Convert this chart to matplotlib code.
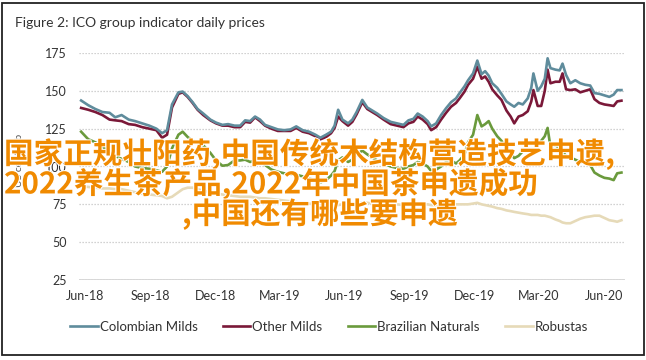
import matplotlib
matplotlib.use("Agg")
import matplotlib.pyplot as plt
import matplotlib.patheffects as pe
from matplotlib.patches import Rectangle
import pandas as pd

plt.rcParams['font.family'] = ['Lato', 'DejaVu Sans']

dates = [
    "2018-05-26", "2018-06-05", "2018-06-15", "2018-06-25", "2018-07-05", "2018-07-13",
    "2018-07-22", "2018-08-01", "2018-08-10", "2018-08-20", "2018-08-30", "2018-09-09",
    "2018-09-17", "2018-09-24", "2018-10-01", "2018-10-10", "2018-10-16", "2018-10-23",
    "2018-10-30", "2018-11-06", "2018-11-14", "2018-11-24", "2018-12-02", "2018-12-11",
    "2018-12-19", "2018-12-28", "2019-01-05", "2019-01-12", "2019-01-19", "2019-01-26",
    "2019-02-02", "2019-02-09", "2019-02-18", "2019-02-27", "2019-03-08", "2019-03-17",
    "2019-03-25", "2019-04-03", "2019-04-12", "2019-04-21", "2019-04-28", "2019-05-06",
    "2019-05-13", "2019-05-18", "2019-05-23", "2019-05-29", "2019-06-06", "2019-06-12",
    "2019-06-18", "2019-06-26", "2019-07-03", "2019-07-10", "2019-07-17", "2019-07-26",
    "2019-08-05", "2019-08-14", "2019-08-23", "2019-08-30", "2019-09-06", "2019-09-12",
    "2019-09-19", "2019-09-26", "2019-10-01", "2019-10-08", "2019-10-15", "2019-10-22",
    "2019-10-29", "2019-11-05", "2019-11-10", "2019-11-17", "2019-11-22", "2019-11-29",
    "2019-12-05", "2019-12-11", "2019-12-16", "2019-12-21", "2019-12-26", "2020-01-02",
    "2020-01-08", "2020-01-15", "2020-01-21", "2020-01-26", "2020-02-01", "2020-02-07",
    "2020-02-14", "2020-02-19", "2020-02-22", "2020-02-28", "2020-03-04", "2020-03-09",
    "2020-03-13", "2020-03-17", "2020-03-24", "2020-03-30", "2020-04-03", "2020-04-08",
    "2020-04-14", "2020-04-21", "2020-04-28", "2020-05-05", "2020-05-12", "2020-05-18",
    "2020-05-25", "2020-06-01", "2020-06-08", "2020-06-14", "2020-06-19", "2020-06-25",
]

colombian_milds = [
    143.6, 140.5, 138, 136, 135.5, 132.5, 134, 131, 130, 128.5, 127, 125, 122, 124, 141, 149,
    149.5, 146.5, 142.5, 138, 135, 131, 129, 127.5, 128, 127, 127, 130.5, 130, 133, 131, 127.5,
    126, 124.5, 124, 124.5, 126.5, 124, 123, 121, 119, 121, 123, 127, 137.5, 131, 128.5, 131,
    136, 144, 139, 137, 135, 132, 129.5, 128.5, 127.5, 130.5, 131.5, 135, 133, 130, 126.5, 128.5,
    134, 138.5, 142.5, 145, 148.5, 153, 157, 161.5, 170, 161, 163, 160, 155, 152, 148, 143,
    141, 139.5, 142, 141, 145, 152, 161.5, 150, 153, 158, 171.5, 165, 164, 163.5, 168, 160.5,
    155, 157, 155, 154, 153.5, 148.5, 148, 147, 146, 147.5, 150.5, 150.5,
]

other_milds = [
    138.7, 137.5, 136, 134, 131, 130.5, 130, 128, 127.5, 126, 125, 124, 119, 121, 139, 148,
    149, 146, 142, 137.5, 134, 130.5, 128.5, 127, 127, 126, 126, 129.5, 129, 132.5, 130, 127,
    125, 123.5, 123.5, 123.5, 125.5, 123, 122, 120, 118, 119.5, 122, 125.5, 133, 130, 127, 129.5,
    134.5, 142.5, 138, 136, 134, 131, 128, 127, 126, 128.5, 129.5, 133, 131, 128, 124, 126,
    131, 135.5, 139.5, 142, 145, 149.5, 154, 158, 166, 158, 159.5, 156, 151, 147, 144, 137,
    133, 128.5, 133, 134, 136.5, 143, 150.5, 140, 140, 150, 164, 155, 156, 156, 161.5, 151,
    150.5, 151, 149, 150, 151, 144.5, 142, 141, 140.5, 140, 143, 143.5,
]

brazilian_naturals = [
    123, 118, 116, 113, 110, 107, 105, 103, 100, 99, 98.5, 97.5, 96.5, 100, 112, 121,
    123, 119.5, 117, 116, 114, 109, 104, 100.5, 101, 104, 104, 104.5, 103, 104, 103.5, 101,
    98, 96.5, 95.5, 95, 94.5, 93.5, 92, 91, 89.5, 91, 94, 97, 104, 106, 103, 104.5,
    108, 110.5, 108, 106, 104, 102, 100, 99, 98.5, 100, 101, 103, 102, 100, 97, 98,
    100, 103, 104, 102, 104, 108, 116, 121, 134, 126.5, 128, 130, 125, 120, 117, 112,
    109, 105.5, 107, 110, 111, 109, 110, 114, 117, 120, 125.5, 113, 114, 112, 110, 107,
    106, 104.5, 103, 102.5, 101, 96, 94, 92.5, 92, 91, 95.5, 96,
]

robustas = [
    87, 86.5, 86, 85.5, 85.5, 85, 85, 84, 83, 82, 81.5, 81, 80.5, 79, 80, 83,
    85, 86, 86, 85, 84, 83, 82, 81.5, 81, 80.5, 80, 80, 80, 79.5, 79, 79,
    78.5, 78, 77.5, 77, 76.5, 76, 75.5, 75, 74.5, 74, 74, 74, 74.5, 75, 75, 75,
    75.5, 76, 76, 75.5, 75.5, 75, 75, 75, 74.5, 74.5, 74.5, 75, 75, 75, 74.5, 74.5,
    74.5, 75, 75, 75, 75, 75, 75, 75.5, 76, 75, 74.5, 74, 73.5, 72.5, 72, 71,
    70.5, 70, 69.5, 69, 68.5, 68, 68, 68, 67.5, 67.5, 67, 66.5, 65, 64, 63, 62.5,
    62.5, 64, 65.5, 66.5, 67, 67.5, 67.5, 66, 64.5, 64, 63.5, 64.5,
]

series_names = ["Colombian Milds", "Other Milds", "Brazilian Naturals", "Robustas"]
series_colors = ["#5f8c9c", "#7a1838", "#6a9a3c", "#e6dab8"]

tick_dates = ["2018-06-01", "2018-09-01", "2018-12-01", "2019-03-01", "2019-06-01",
              "2019-09-01", "2019-12-01", "2020-03-01", "2020-06-01"]
tick_labels = ["Jun-18", "Sep-18", "Dec-18", "Mar-19", "Jun-19",
               "Sep-19", "Dec-19", "Mar-20", "Jun-20"]
y_ticks = [25, 50, 75, 100, 125, 150, 175]

title_text = "Figure 2: ICO group indicator daily prices"
y_label = "US cents/lb"
overlay_lines = [
    "国家正规壮阳药,中国传统木结构营造技艺申遗,",
    "2022养生茶产品,2022年中国茶申遗成功",
    ",中国还有哪些要申遗",
]

W, H = 646, 360
fig = plt.figure(figsize=(W / 100, H / 100), dpi=100)
ax = fig.add_axes([79 / W, 1 - 280 / H, (625 - 79) / W, (280 - 53) / H])

x = pd.to_datetime(dates)
all_series = [colombian_milds, other_milds, brazilian_naturals, robustas]
handles = []
for vals, name, col in zip(all_series[::-1], series_names[::-1], series_colors[::-1]):
    h, = ax.plot(x, vals, color=col, lw=1.9, label=name, solid_joinstyle='round')
    handles.append(h)
handles = handles[::-1]

ax.set_ylim(25, 175)
ax.set_xlim(pd.Timestamp("2018-05-23"), pd.Timestamp("2020-06-30"))
ax.set_yticks(y_ticks)
ax.set_xticks(pd.to_datetime(tick_dates))
ax.set_xticklabels(tick_labels)
ax.tick_params(axis='both', length=0, labelsize=9, colors='#333333')
ax.tick_params(axis='y', pad=9)
ax.tick_params(axis='x', pad=7)
for s in ax.spines.values():
    s.set_visible(False)
ax.yaxis.grid(True, linestyle=(0, (1, 1.4)), color='#c4c4c4', lw=0.9)
ax.set_axisbelow(True)
ax.axhline(25, color='#d8d8d8', lw=1.4, zorder=0.5)

fig.legend(handles=handles, labels=series_names, loc='center', ncol=4,
           bbox_to_anchor=(329 / W, 1 - 327 / H), frameon=False, fontsize=9.5,
           handlelength=2.1, handletextpad=0.15, columnspacing=1.9, labelcolor='#333333')

fig.text(15 / W, 1 - 23 / H, title_text, fontsize=10, color='#333333', va='center', ha='left')
fig.text(19 / W, 1 - 160 / H, y_label, fontsize=7.5, color='#555555', rotation=90,
         va='center', ha='center')

fig.patches.append(Rectangle((2 / W, 5 / H), 642 / W, 352 / H, transform=fig.transFigure,
                             fill=False, ec='#222222', lw=1.3))

ov_pos = [(4, 154), (4, 184), (182, 214)]
for txt, (px, py) in zip(overlay_lines, ov_pos):
    fig.text(px / W, 1 - py / H, txt, fontsize=21.3, color='#f08a00', fontweight='bold',
             family=['Noto Sans CJK SC', 'DejaVu Sans'], va='center', ha='left',
             path_effects=[pe.withStroke(linewidth=1.5, foreground='white')])

fig.savefig("out.png", dpi=100)
